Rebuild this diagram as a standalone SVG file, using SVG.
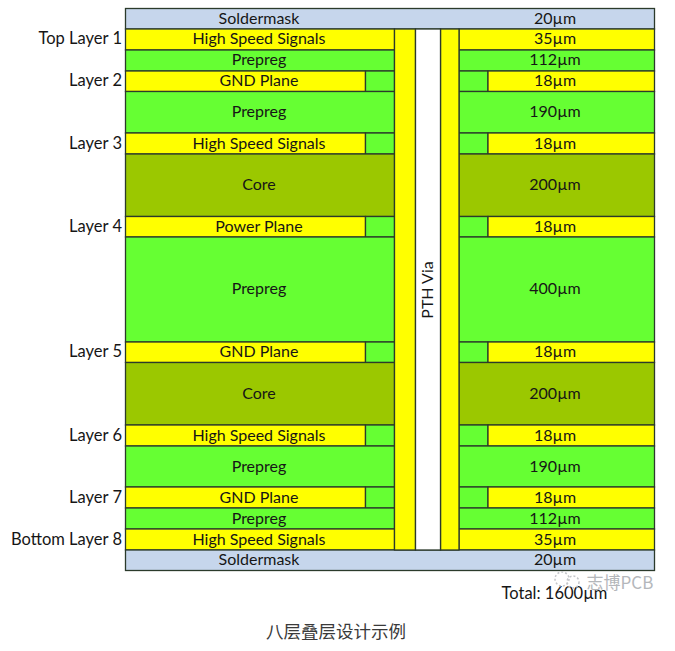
<svg xmlns="http://www.w3.org/2000/svg" width="675" height="651" viewBox="0 0 675 651">
<style>
.b{stroke:#2b3a2b;stroke-width:1.3}
.s{fill:#c6d6ec}.y{fill:#ffff00}.g{fill:#66ff33}.c{fill:#9bc800}.w{fill:#ffffff}
text{font-family:Lato,"Liberation Sans",sans-serif;font-size:16px;fill:#161616;text-anchor:middle}
.l{text-anchor:end;font-size:16.5px}
.i{fill:none;stroke:#c4c6ca;stroke-width:1.5;stroke-dasharray:2 2}
</style>
<rect width="675" height="651" fill="#ffffff"/>
<g id="stack-rows">
<g id="soldermask-top"><rect class="b s" x="125.5" y="8.5" width="529" height="20.5"/><text x="259" y="23.5">Soldermask</text><text x="555" y="23.5">20µm</text></g>
<g id="layer-1"><rect class="b y" x="125.5" y="29" width="269" height="21"/><rect class="b y" x="459" y="29" width="195.5" height="21"/><text x="259" y="44">High Speed Signals</text><text x="555" y="44">35µm</text></g>
<g id="prepreg-1"><rect class="b g" x="125.5" y="50" width="269" height="21"/><rect class="b g" x="459" y="50" width="195.5" height="21"/><text x="259" y="65">Prepreg</text><text x="555" y="65">112µm</text></g>
<g id="layer-2"><rect class="b y" x="125.5" y="71" width="240" height="20.5"/><rect class="b g" x="365.5" y="71" width="29" height="20.5"/><rect class="b g" x="459" y="71" width="29" height="20.5"/><rect class="b y" x="488" y="71" width="166.5" height="20.5"/><text x="259" y="86">GND Plane</text><text x="555" y="86">18µm</text></g>
<g id="prepreg-2"><rect class="b g" x="125.5" y="91.5" width="269" height="41.5"/><rect class="b g" x="459" y="91.5" width="195.5" height="41.5"/><text x="259" y="117">Prepreg</text><text x="555" y="117">190µm</text></g>
<g id="layer-3"><rect class="b y" x="125.5" y="133" width="240" height="21"/><rect class="b g" x="365.5" y="133" width="29" height="21"/><rect class="b g" x="459" y="133" width="29" height="21"/><rect class="b y" x="488" y="133" width="166.5" height="21"/><text x="259" y="148.5">High Speed Signals</text><text x="555" y="148.5">18µm</text></g>
<g id="core-1"><rect class="b c" x="125.5" y="154" width="269" height="62.5"/><rect class="b c" x="459" y="154" width="195.5" height="62.5"/><text x="259" y="190">Core</text><text x="555" y="190">200µm</text></g>
<g id="layer-4"><rect class="b y" x="125.5" y="216.5" width="240" height="20.5"/><rect class="b g" x="365.5" y="216.5" width="29" height="20.5"/><rect class="b g" x="459" y="216.5" width="29" height="20.5"/><rect class="b y" x="488" y="216.5" width="166.5" height="20.5"/><text x="259" y="232">Power Plane</text><text x="555" y="232">18µm</text></g>
<g id="prepreg-3"><rect class="b g" x="125.5" y="237" width="269" height="105"/><rect class="b g" x="459" y="237" width="195.5" height="105"/><text x="259" y="294">Prepreg</text><text x="555" y="294">400µm</text></g>
<g id="layer-5"><rect class="b y" x="125.5" y="342" width="240" height="20.5"/><rect class="b g" x="365.5" y="342" width="29" height="20.5"/><rect class="b g" x="459" y="342" width="29" height="20.5"/><rect class="b y" x="488" y="342" width="166.5" height="20.5"/><text x="259" y="357">GND Plane</text><text x="555" y="357">18µm</text></g>
<g id="core-2"><rect class="b c" x="125.5" y="362.5" width="269" height="62.5"/><rect class="b c" x="459" y="362.5" width="195.5" height="62.5"/><text x="259" y="399">Core</text><text x="555" y="399">200µm</text></g>
<g id="layer-6"><rect class="b y" x="125.5" y="425" width="240" height="21"/><rect class="b g" x="365.5" y="425" width="29" height="21"/><rect class="b g" x="459" y="425" width="29" height="21"/><rect class="b y" x="488" y="425" width="166.5" height="21"/><text x="259" y="440.5">High Speed Signals</text><text x="555" y="440.5">18µm</text></g>
<g id="prepreg-4"><rect class="b g" x="125.5" y="446" width="269" height="41"/><rect class="b g" x="459" y="446" width="195.5" height="41"/><text x="259" y="472">Prepreg</text><text x="555" y="472">190µm</text></g>
<g id="layer-7"><rect class="b y" x="125.5" y="487" width="240" height="21"/><rect class="b g" x="365.5" y="487" width="29" height="21"/><rect class="b g" x="459" y="487" width="29" height="21"/><rect class="b y" x="488" y="487" width="166.5" height="21"/><text x="259" y="502.5">GND Plane</text><text x="555" y="502.5">18µm</text></g>
<g id="prepreg-5"><rect class="b g" x="125.5" y="508" width="269" height="21"/><rect class="b g" x="459" y="508" width="195.5" height="21"/><text x="259" y="523.5">Prepreg</text><text x="555" y="523.5">112µm</text></g>
<g id="layer-8"><rect class="b y" x="125.5" y="529" width="269" height="21"/><rect class="b y" x="459" y="529" width="195.5" height="21"/><text x="259" y="544.5">High Speed Signals</text><text x="555" y="544.5">35µm</text></g>
<g id="soldermask-bottom"><rect class="b s" x="125.5" y="550" width="529" height="20.5"/><text x="259" y="565">Soldermask</text><text x="555" y="565">20µm</text></g>
</g>
<g id="pth-via">
<rect class="b y" x="394.5" y="29" width="21" height="521"/>
<rect class="b y" x="440.5" y="29" width="18.5" height="521"/>
<rect class="b w" x="415.5" y="29" width="25" height="521"/>
<text transform="translate(433,290) rotate(-90)">PTH Via</text>
</g>
<g id="layer-labels">
<text class="l" x="122" y="44">Top Layer 1</text>
<text class="l" x="122" y="86">Layer 2</text>
<text class="l" x="122" y="148.5">Layer 3</text>
<text class="l" x="122" y="232">Layer 4</text>
<text class="l" x="122" y="357">Layer 5</text>
<text class="l" x="122" y="440.5">Layer 6</text>
<text class="l" x="122" y="502.5">Layer 7</text>
<text class="l" x="122" y="544.5">Bottom Layer 8</text>
</g>
<text id="total" x="554.5" y="598.5" style="font-size:16.5px">Total: 1600µm</text>
<g id="watermark-icon"><circle class="i" cx="562" cy="579" r="7"/><circle class="i" cx="573" cy="582" r="6"/></g>
<text id="watermark" x="620" y="589" style="font-family:'Noto Sans CJK SC','Liberation Sans',sans-serif;font-size:17px;fill:#b4b7bb">志博PCB</text>
<text id="caption" x="336" y="638" style="font-family:'Noto Sans CJK SC',sans-serif;font-size:17.5px;fill:#3a3a3a">八层叠层设计示例</text>
</svg>
